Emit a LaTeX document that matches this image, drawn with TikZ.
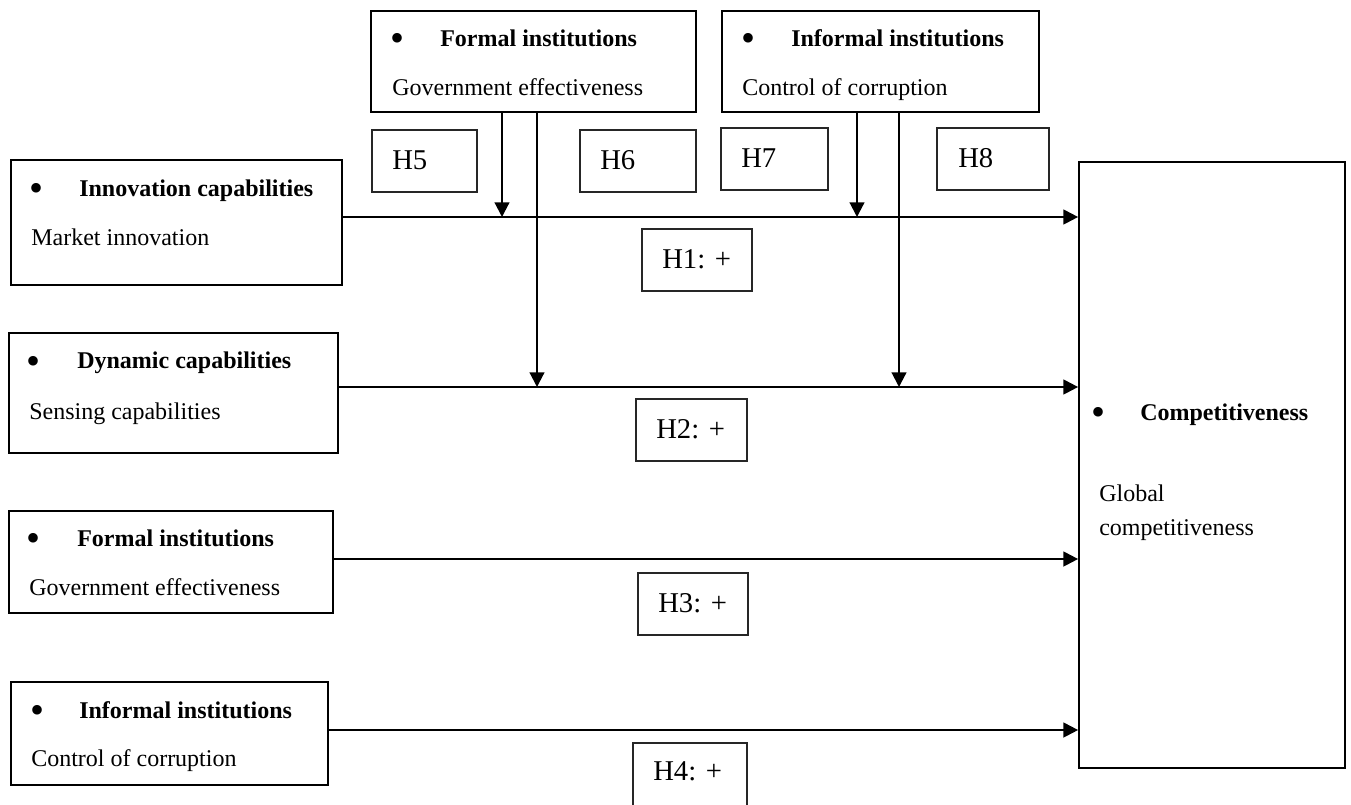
\documentclass[tikz,border=0pt]{standalone}
\usepackage{fontspec}
\setmainfont{Liberation Serif}
\usetikzlibrary{fit,arrows.meta}
\begin{document}
\begin{tikzpicture}[x=0.75pt,y=-0.75pt,
  mainbox/.style={draw=black, line width=1.3pt, inner sep=0pt},
  hbox/.style={draw=black!85, line width=0.9pt, inner sep=0pt},
  txt/.style={anchor=west, inner sep=0pt, text height=0.7em, text depth=0.2em, yshift=-3.8pt, font=\fontsize{18}{21}\selectfont},
  htxt/.style={anchor=west, inner sep=0pt, text height=0.7em, text depth=0.2em, yshift=-4.2pt, font=\fontsize{21.5}{25}\selectfont},
  bul/.style={anchor=center, inner sep=0pt, text height=0.5em, text depth=0pt, yshift=-7.2pt, font=\fontsize{30}{30}\selectfont},
  arr/.style={line width=1.6pt, -{Triangle[length=11pt,width=11pt]}},
]
\useasboundingbox (0,0) rectangle (1351,804);
\clip (0,0) rectangle (1351,804);

% main boxes
\node[mainbox, fit={(11,160)(342,285)}] (innov) {};
\node[mainbox, fit={(9,333)(338,453)}] (dyn) {};
\node[mainbox, fit={(9,511)(333,613)}] (forml) {};
\node[mainbox, fit={(11,682)(328,785)}] (infl) {};
\node[mainbox, fit={(371,11)(696,112)}] (ftop) {};
\node[mainbox, fit={(722,11)(1039,112)}] (itop) {};
\node[mainbox, fit={(1079,162)(1345,768)}] (comp) {};

% texts in main boxes
\node[bul] (innovb) at (37,189) {•};
\node[txt] (innovt) at (79,188) {\textbf{Innovation capabilities}};
\node[txt] (innovs) at (31,237) {Market innovation};

\node[bul] (dynb) at (34,362) {•};
\node[txt] (dynt) at (77,360) {\textbf{Dynamic capabilities}};
\node[txt] (dyns) at (29,411) {Sensing capabilities};

\node[bul] (formlb) at (34,539) {•};
\node[txt] (formlt) at (77,538) {\textbf{Formal institutions}};
\node[txt] (formls) at (29,587) {Government effectiveness};

\node[bul] (inflb) at (38,711) {•};
\node[txt] (inflt) at (79,710) {\textbf{Informal institutions}};
\node[txt] (infls) at (31,758) {Control of corruption};

\node[bul] (ftopb) at (397,39) {•};
\node[txt] (ftopt) at (440,38) {\textbf{Formal institutions}};
\node[txt] (ftops) at (392,87) {Government effectiveness};

\node[bul] (itopb) at (748,39) {•};
\node[txt] (itopt) at (791,38) {\textbf{Informal institutions}};
\node[txt] (itops) at (742,87) {Control of corruption};

\node[bul] (compb) at (1098,413) {•};
\node[txt] (compt) at (1140,412) {\textbf{Competitiveness}};
\node[txt] (comps1) at (1099,493) {Global};
\node[txt] (comps2) at (1099,527) {competitiveness};

% hypothesis boxes
\node[hbox, fit={(372,130)(477,192)}] (h5) {};
\node[htxt] (h5t) at (392,161) {H5};
\node[hbox, fit={(580,130)(696,192)}] (h6) {};
\node[htxt] (h6t) at (600,161) {H6};
\node[hbox, fit={(721,128)(828,190)}] (h7) {};
\node[htxt] (h7t) at (741,159) {H7};
\node[hbox, fit={(937,128)(1049,190)}] (h8) {};
\node[htxt] (h8t) at (958,159) {H8};

\node[hbox, fit={(642,229)(752,291)}] (h1) {};
\node[htxt] (h1t) at (662,260) {H1: +};
\node[hbox, fit={(636,399)(747,461)}] (h2) {};
\node[htxt] (h2t) at (656,430) {H2: +};
\node[hbox, fit={(638,573)(748,635)}] (h3) {};
\node[htxt] (h3t) at (658,604) {H3: +};
\node[hbox, fit={(633,743)(747,812)}] (h4) {};
\node[htxt] (h4t) at (653,772) {H4: +};

% junction points
\coordinate (j5) at (502,217);
\coordinate (j6) at (537,387);
\coordinate (j7) at (857,217);
\coordinate (j8) at (899,387);
\coordinate (r3) at (0,559);
\coordinate (r4) at (0,730);

% main arrows
\draw[arr] (innov.east |- j5) -- (comp.west |- j5);
\draw[arr] (dyn.east |- j6) -- (comp.west |- j6);
\draw[arr] (forml.east |- r3) -- (comp.west |- r3);
\draw[arr] (infl.east |- r4) -- (comp.west |- r4);

% moderating arrows
\draw[arr] (ftop.south -| j5) -- (j5);
\draw[arr] (ftop.south -| j6) -- (j6);
\draw[arr] (itop.south -| j7) -- (j7);
\draw[arr] (itop.south -| j8) -- (j8);
\end{tikzpicture}
\end{document}
